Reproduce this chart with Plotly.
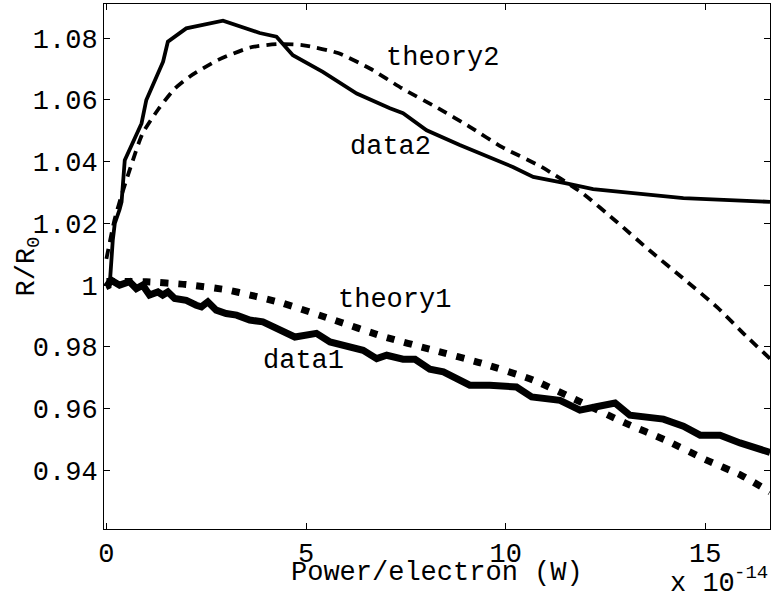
import plotly.graph_objects as go

# Power per electron (units of 1e-14 W) and normalised resistance R/R0
data2_x = [0.0, 0.08, 0.16, 0.21, 0.33, 0.38, 0.46, 0.88, 1.0, 1.25, 1.42, 1.54, 2.0, 2.92,
           3.84, 4.26, 4.67, 5.42, 6.27, 7.1, 7.43, 8.02, 8.85, 10.18, 10.69, 11.52, 12.19,
           14.45, 16.62]
data2_y = [0.999, 0.9995, 1.0146, 1.020, 1.0245, 1.027, 1.0405, 1.0524, 1.060, 1.0675, 1.0724,
           1.0789, 1.0832, 1.0857, 1.0817, 1.0805, 1.0745, 1.0691, 1.0621, 1.0573, 1.0557,
           1.0502, 1.0454, 1.0383, 1.0351, 1.033, 1.0311, 1.0282, 1.027]

theory2_x = [0.0, 0.2, 0.4, 0.6, 0.9, 1.3, 1.7, 2.1, 2.8, 3.6, 4.3, 4.9, 5.8, 6.6, 7.4, 8.3,
             9.1, 9.9, 10.9, 11.9, 12.8, 13.6, 14.5, 15.3, 16.0, 16.62]
theory2_y = [1.0085, 1.021, 1.030, 1.038, 1.049, 1.057, 1.0635, 1.0677, 1.0730, 1.0770, 1.0781,
             1.0778, 1.0752, 1.0702, 1.0638, 1.0574, 1.0513, 1.0448, 1.0383, 1.0300, 1.0203,
             1.0113, 1.0016, 0.9928, 0.9838, 0.9762]

data1_x = [0.0, 0.12, 0.33, 0.58, 0.75, 0.91, 1.08, 1.29, 1.41, 1.54, 1.71, 2.0, 2.25, 2.38,
           2.54, 2.75, 3.0, 3.26, 3.59, 3.92, 4.72, 5.26, 5.6, 6.43, 6.77, 7.02, 7.43, 7.73,
           8.1, 8.44, 9.1, 9.6, 10.27, 10.65, 11.36, 11.86, 12.27, 12.74, 13.11, 13.95, 14.45,
           14.87, 15.37, 15.87, 16.62]
data1_y = [0.9995, 1.0016, 1.0, 1.0011, 0.9989, 1.0, 0.9968, 0.9978, 0.9968, 0.9978, 0.9957,
           0.9951, 0.9935, 0.9930, 0.9946, 0.9919, 0.9908, 0.9903, 0.9887, 0.9881, 0.9832,
           0.9844, 0.9816, 0.9789, 0.9762, 0.9773, 0.976, 0.976, 0.9728, 0.9719, 0.9676,
           0.9676, 0.967, 0.9638, 0.9627, 0.9595, 0.9606, 0.9618, 0.9579, 0.9566, 0.9543,
           0.9514, 0.9514, 0.9489, 0.9458]

theory1_x = [0.0, 1.0, 2.0, 3.0, 3.6, 4.4, 5.7, 6.9, 8.2, 9.4, 10.7, 11.9, 13.0, 14.0, 15.0,
             15.9, 16.62]
theory1_y = [1.0012, 1.0011, 1.0002, 0.9985, 0.9968, 0.9942, 0.9887, 0.9835, 0.9789, 0.9747,
             0.9692, 0.9620, 0.9553, 0.9498, 0.9435, 0.9384, 0.933]

x_ticks = [0, 5, 10, 15]
x_tick_labels = ["0", "5", "10", "15"]
y_ticks = [0.94, 0.96, 0.98, 1.0, 1.02, 1.04, 1.06, 1.08]
y_tick_labels = ["0.94", "0.96", "0.98", "1", "1.02", "1.04", "1.06", "1.08"]

# curve labels: (text, x, y)
curve_labels = [("theory2", 8.42, 1.0736), ("data2", 7.12, 1.0447),
                ("theory1", 7.22, 0.9951), ("data1", 4.94, 0.9754)]

FONT = "Liberation Mono, Courier New, monospace"
FS = 27

fig = go.Figure()
fig.add_trace(go.Scatter(x=data1_x, y=data1_y, mode="lines",
                         line=dict(color="black", width=7)))
fig.add_trace(go.Scatter(x=theory1_x, y=theory1_y, mode="lines",
                         line=dict(color="black", width=7, dash="8px,10px",
                                   shape="spline", smoothing=0.6)))
fig.add_trace(go.Scatter(x=data2_x, y=data2_y, mode="lines",
                         line=dict(color="black", width=3.8)))
fig.add_trace(go.Scatter(x=theory2_x, y=theory2_y, mode="lines",
                         line=dict(color="black", width=3.8, dash="10px,7px",
                                   shape="spline", smoothing=0.6)))

for txt, lx, ly in curve_labels:
    fig.add_annotation(x=lx, y=ly, text=txt, showarrow=False,
                       xanchor="center", yanchor="middle",
                       font=dict(family=FONT, size=FS, color="black"))

axis_common = dict(showline=True, linecolor="black", linewidth=1, mirror="ticks",
                   ticks="inside", ticklen=6, tickwidth=1, tickcolor="black",
                   showgrid=False, zeroline=False,
                   tickfont=dict(family=FONT, size=FS, color="black"))

fig.update_xaxes(range=[-0.06, 16.62], tickvals=x_ticks, ticktext=x_tick_labels,
                 **axis_common)
fig.update_yaxes(range=[0.921, 1.0911], tickvals=y_ticks, ticktext=y_tick_labels,
                 **axis_common)

# axis titles
fig.add_annotation(xref="paper", yref="paper", x=0.5, y=-0.084, text="Power/electron (W)",
                   showarrow=False, xanchor="center", yanchor="middle",
                   font=dict(family=FONT, size=FS, color="black"))
fig.add_annotation(xref="paper", yref="paper", x=-0.114, y=0.5, text="R/R<sub>0</sub>",
                   textangle=-90, showarrow=False, xanchor="center", yanchor="middle",
                   font=dict(family=FONT, size=FS, color="black"))

# x-axis exponent: mantissa text and raised power
fig.add_annotation(xref="paper", yref="paper", x=0.9505, y=-0.104, text="x 10",
                   showarrow=False, xanchor="right", yanchor="middle",
                   font=dict(family=FONT, size=FS, color="black"))
fig.add_annotation(xref="paper", yref="paper", x=1.0, y=-0.084, text="-14",
                   showarrow=False, xanchor="right", yanchor="middle",
                   font=dict(family=FONT, size=19, color="black"))

fig.update_layout(width=773, height=596, showlegend=False,
                  margin=dict(l=104, r=3, t=4, b=67),
                  paper_bgcolor="white", plot_bgcolor="white")

fig.write_html("out.html")
